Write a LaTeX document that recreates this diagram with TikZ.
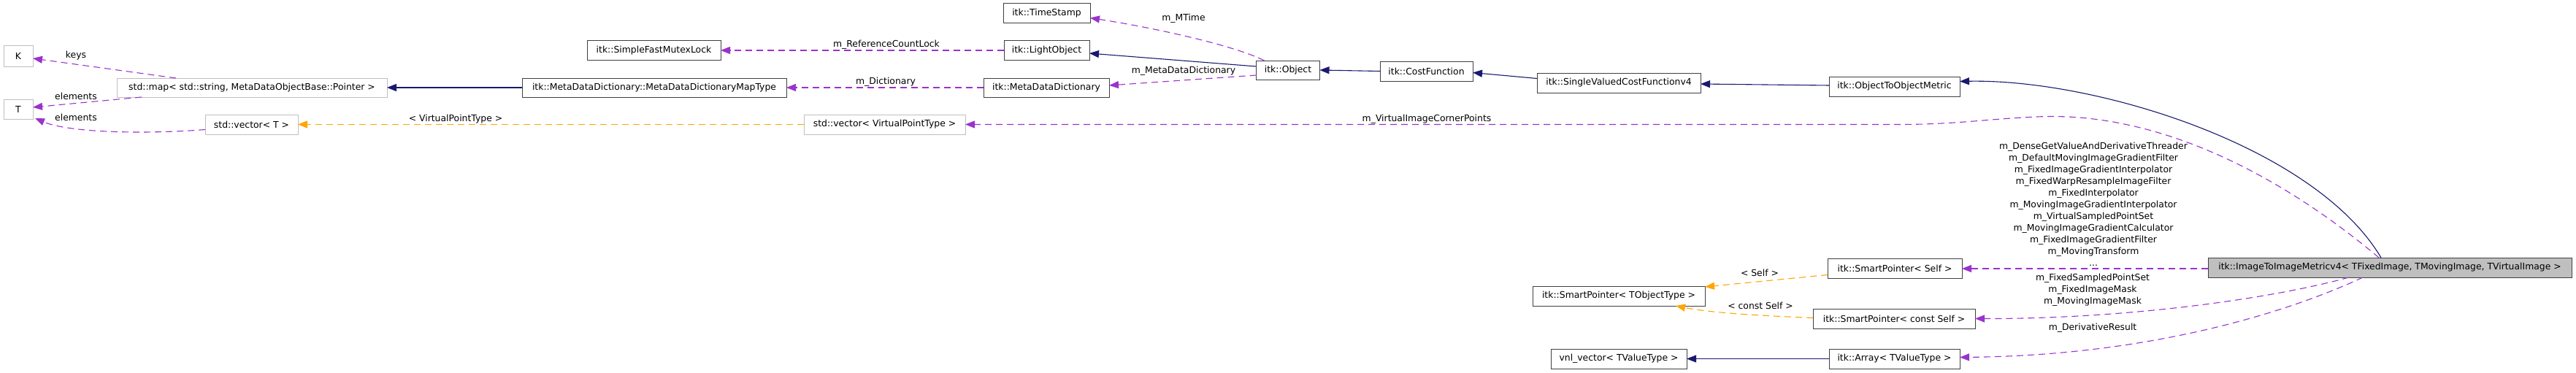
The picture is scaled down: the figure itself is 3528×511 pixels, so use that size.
\documentclass[tikz,border=0pt]{standalone}
\usepackage{fontspec}
\setmainfont{DejaVu Sans}
\usetikzlibrary{arrows.meta,calc}
\definecolor{purp}{HTML}{9A32CD}
\definecolor{orng}{HTML}{FFA500}
\definecolor{navy}{HTML}{191970}
\definecolor{g75}{HTML}{BFBFBF}
\definecolor{bord}{HTML}{404040}
\tikzset{
  box/.style={draw=bord, line width=1pt, fill=white, minimum height=27pt, inner sep=0pt, outer sep=0pt, font=\fontsize{12.4}{15}\selectfont},
  extbox/.style={box, draw=g75},
  mainbox/.style={box, fill=g75},
  tip/.style={-{Triangle[length=13pt,width=10pt]}},
  uses/.style={tip, draw=purp, line width=1.1pt, dash pattern=on 9pt off 6pt},
  tmpl/.style={tip, draw=orng, line width=1.1pt, dash pattern=on 9pt off 6pt},
  inh/.style={tip, draw=navy, line width=1.1pt},
  lbl/.style={inner sep=0pt, align=center, font=\fontsize{12.4}{16}\selectfont}
}
\begin{document}
\begin{tikzpicture}[x=1pt,y=-1pt]
\useasboundingbox (0,0) rectangle (3528,511);
% nodes
\node[extbox, minimum width=40pt, minimum height=28pt] (K) at (25,77) {K};
\node[extbox, minimum width=40pt] (T) at (25,149.5) {T};
\node[extbox, minimum width=370pt, minimum height=26pt] (map) at (345,120) {std::map< std::string, MetaDataObjectBase::Pointer >};
\node[extbox, minimum width=127pt] (vecT) at (344.5,170.5) {std::vector< T >};
\node[box, minimum width=183pt, minimum height=26pt] (mutex) at (895.5,69) {itk::SimpleFastMutexLock};
\node[box, minimum width=362pt, minimum height=26pt] (maptype) at (896,120) {itk::MetaDataDictionary::MetaDataDictionaryMapType};
\node[extbox, minimum width=221pt] (vecV) at (1211.5,170.5) {std::vector< VirtualPointType >};
\node[box, minimum width=119pt] (timestamp) at (1433.5,18.5) {itk::TimeStamp};
\node[box, minimum width=117pt, minimum height=26pt] (light) at (1433.5,69) {itk::LightObject};
\node[box, minimum width=172pt, minimum height=26pt] (mdd) at (1433,120) {itk::MetaDataDictionary};
\node[box, minimum width=87pt, minimum height=26pt] (object) at (1764,96) {itk::Object};
\node[box, minimum width=127pt] (costfn) at (1953.5,97.5) {itk::CostFunction};
\node[box, minimum width=224pt] (svcf) at (2217,113.5) {itk::SingleValuedCostFunctionv4};
\node[box, minimum width=179pt] (otom) at (2594.5,118.5) {itk::ObjectToObjectMetric};
\node[mainbox, minimum width=498pt] (main) at (3273,366.5) {itk::ImageToImageMetricv4< TFixedImage, TMovingImage, TVirtualImage >};
\node[box, minimum width=184pt] (spself) at (2595,367.5) {itk::SmartPointer< Self >};
\node[box, minimum width=236pt] (sptobj) at (2217,405.5) {itk::SmartPointer< TObjectType >};
\node[box, minimum width=222pt] (spconst) at (2594,436.5) {itk::SmartPointer< const Self >};
\node[box, minimum width=186pt] (vnl) at (2217,491.5) {vnl\_vector< TValueType >};
\node[box, minimum width=179pt] (array) at (2594.5,491.5) {itk::Array< TValueType >};
% connectors
\draw[uses] ($(map.north west)+(81,0)$) -- ($(K.east)+(0,3)$);
\draw[uses] ($(map.south west)+(34,0)$) -- ($(T.east)+(0,-2.5)$);
\draw[uses] ($(vecT.west)+(0,7)$) .. controls (200,184) and (95,182) .. ($(T.south east)+(3,-1)$);
\draw[tmpl] (vecV.west) -- (vecT.east);
\draw[inh] (maptype.west) -- (map.east);
\draw[uses] (mdd.west) -- (maptype.east);
\draw[uses] (light.west) -- (mutex.east);
\draw[uses] ($(object.north west)+(11,0)$) .. controls (1690,62) and (1580,38) .. ($(timestamp.east)+(0,6)$);
\draw[inh] ($(object.west)+(0,-5)$) -- ($(light.east)+(0,4)$);
\draw[uses] ($(object.west)+(0,7)$) -- ($(mdd.east)+(0,-3)$);
\draw[inh] (costfn.west) -- (object.east);
\draw[inh] ($(svcf.west)+(0,-6)$) -- ($(costfn.east)+(0,2)$);
\draw[inh] ($(otom.west)+(0,-1.5)$) -- ($(svcf.east)+(0,1.5)$);
\draw[inh] ($(main.north west)+(237,0)$) .. controls (3170,200) and (2870,108) .. ($(otom.east)+(0,-7)$);
\draw[uses] ($(main.north west)+(234,0)$) .. controls (3130,245) and (2960,152) .. (2790,160) .. controls (2720,163) and (2680,170.5) .. (2600,170.5) -- (vecV.east);
\draw[uses] ($(main.west)+(0,1.5)$) -- ($(spself.east)+(0,0.5)$);
\draw[uses] ($(main.south west)+(193,0)$) .. controls (3100,412) and (2900,437) .. (spconst.east);
\draw[uses] ($(main.south west)+(212,0)$) .. controls (3140,425) and (2950,487) .. ($(array.east)+(0,-2)$);
\draw[tmpl] ($(spself.west)+(0,9)$) -- ($(sptobj.east)+(0,-12.5)$);
\draw[tmpl] ($(spconst.west)+(0,-1)$) .. controls (2400,432) and (2340,428) .. ($(sptobj.south east)+(-40,0)$);
\draw[inh] (array.west) -- (vnl.east);
% labels
\node[lbl] (lkeys) at (104,76) {keys};
\node[lbl] (lel1) at (104,132) {elements};
\node[lbl] (lel2) at (104,161) {elements};
\node[lbl] (lvpt) at (624,163) {< VirtualPointType >};
\node[lbl] (lrcl) at (1214,61) {m\_ReferenceCountLock};
\node[lbl] (ldict) at (1213,112) {m\_Dictionary};
\node[lbl] (lmtime) at (1621,25) {m\_MTime};
\node[lbl] (lmdd) at (1621,97) {m\_MetaDataDictionary};
\node[lbl] (lvicp) at (1954,163) {m\_VirtualImageCornerPoints};
\node[lbl] (lself) at (2410,374) {< Self >};
\node[lbl] (lcself) at (2411,419) {< const Self >};
\node[lbl] (lmany) at (2867,279.3) {m\_DenseGetValueAndDerivativeThreader\\m\_DefaultMovingImageGradientFilter\\m\_FixedImageGradientInterpolator\\m\_FixedWarpResampleImageFilter\\m\_FixedInterpolator\\m\_MovingImageGradientInterpolator\\m\_VirtualSampledPointSet\\m\_MovingImageGradientCalculator\\m\_FixedImageGradientFilter\\m\_MovingTransform\\...};
\node[lbl] (lmask) at (2866,397) {m\_FixedSampledPointSet\\m\_FixedImageMask\\m\_MovingImageMask};
\node[lbl] (lderiv) at (2866,449) {m\_DerivativeResult};
\end{tikzpicture}
\end{document}
